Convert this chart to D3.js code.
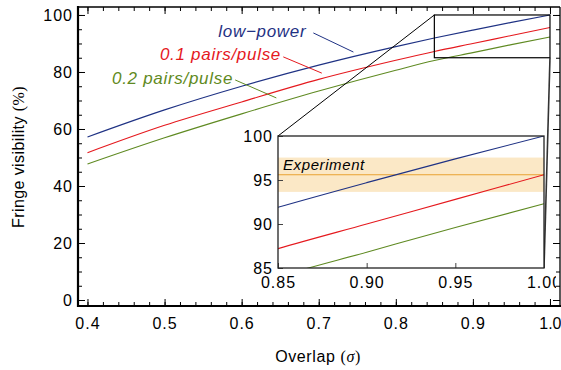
<!DOCTYPE html>
<html>
<head>
<meta charset="utf-8">
<script src="https://cdn.jsdelivr.net/npm/d3@7"></script>
<style>
  body { margin: 0; background: #fff; }
  svg { font-family: "Liberation Sans", Arial, sans-serif; }
</style>
</head>
<body>
<svg id="chart" width="561" height="370"></svg>
<script>
const overlap = [0.4, 0.5, 0.6, 0.7, 0.8, 0.85, 0.9, 0.95, 1.0];
const lowPower = [57.2, 66.7, 75.0, 82.4, 88.9, 91.9, 94.7, 97.4, 100.0];
const pairs01 = [51.7, 61.3, 69.5, 77.4, 84.1, 87.2, 90.0, 92.8, 95.6];
const pairs02 = [47.7, 56.9, 65.3, 73.3, 80.6, 84.0, 86.8, 89.6, 92.3];
const seriesNames = ['low\u2212power', '0.1 pairs/pulse', '0.2 pairs/pulse'];
const seriesColors = ['#1f3284', '#e5191e', '#5f8a22'];

// experiment: mean and half-width of band
const experiment = [95.6, 1.95];

const xTicksMain = [0.4, 0.5, 0.6, 0.7, 0.8, 0.9, 1.0];
const yTicksMain = [0, 20, 40, 60, 80, 100];
const xTicksInset = [0.85, 0.90, 0.95, 1.00];
const yTicksInset = [85, 90, 95, 100];

// label anchors (data coords of main plot): text start, pointer start, pointer end
const labelPos = [
  { tx: 0.5697, ty: 92.3, p: [[0.693, 93.7], [0.745, 87.0]] },
  { tx: 0.494, ty: 84.2, p: [[0.654, 85.3], [0.704, 79.6]] },
  { tx: 0.4318, ty: 75.8, p: [[0.5916, 77.2], [0.645, 70.9]] }
];

const svg = d3.select('#chart');

const x = d3.scaleLinear().domain([0.3877, 1.013]).range([78, 560]);
const y = d3.scaleLinear().domain([-2.1, 102.8]).range([306, 7]);

const xi = d3.scaleLinear().domain([0.85, 1.0]).range([278, 544]);
const yi = d3.scaleLinear().domain([85, 100]).range([268, 136]);

const series = [lowPower, pairs01, pairs02];

// main curves
const line = d3.line()
  .x((d, i) => x(overlap[i]))
  .y(d => y(d))
  .curve(d3.curveMonotoneX);

svg.append('g').selectAll('path')
  .data(series)
  .enter().append('path')
  .attr('d', line)
  .attr('fill', 'none')
  .attr('stroke', (d, i) => seriesColors[i])
  .attr('stroke-width', 1.1);

// labels + pointer lines
labelPos.forEach((l, i) => {
  svg.append('text')
    .attr('x', x(l.tx))
    .attr('y', y(l.ty))
    .attr('fill', seriesColors[i])
    .attr('font-size', 17)
    .attr('letter-spacing', 0.7)
    .attr('font-style', 'italic')
    .text(seriesNames[i]);
  svg.append('line')
    .attr('x1', x(l.p[0][0])).attr('y1', y(l.p[0][1]))
    .attr('x2', x(l.p[1][0])).attr('y2', y(l.p[1][1]))
    .attr('stroke', seriesColors[i])
    .attr('stroke-width', 1);
});

// main ticks (inward) on all four sides
const minorX = d3.range(0.4, 1.0001, 0.02);
const minorY = d3.range(0, 100.001, 5);

svg.append('g').attr('transform', `translate(0,${y.range()[0]})`)
  .call(d3.axisBottom(x).tickValues(minorX).tickSize(-4).tickFormat(''))
  .call(g => g.select('.domain').remove());
const xAxisMain = svg.append('g').attr('transform', `translate(0,${y.range()[0]})`)
  .call(d3.axisBottom(x).tickValues(xTicksMain).tickSize(-7).tickPadding(12).tickFormat(d3.format('.1f')))
  .call(g => g.select('.domain').remove());
svg.append('g').attr('transform', `translate(0,${y.range()[1]})`)
  .call(d3.axisTop(x).tickValues(minorX).tickSize(-4).tickFormat(''))
  .call(g => g.select('.domain').remove());
svg.append('g').attr('transform', `translate(0,${y.range()[1]})`)
  .call(d3.axisTop(x).tickValues(xTicksMain).tickSize(-7).tickFormat(''))
  .call(g => g.select('.domain').remove());

svg.append('g').attr('transform', `translate(${x.range()[0]},0)`)
  .call(d3.axisLeft(y).tickValues(minorY).tickSize(-4).tickFormat(''))
  .call(g => g.select('.domain').remove());
svg.append('g').attr('transform', `translate(${x.range()[0]},0)`)
  .call(d3.axisLeft(y).tickValues(yTicksMain).tickSize(-7).tickPadding(5).tickFormat(d3.format('d')))
  .call(g => g.select('.domain').remove());
svg.append('g').attr('transform', `translate(${x.range()[1]},0)`)
  .call(d3.axisRight(y).tickValues(minorY).tickSize(-4).tickFormat(''))
  .call(g => g.select('.domain').remove());
svg.append('g').attr('transform', `translate(${x.range()[1]},0)`)
  .call(d3.axisRight(y).tickValues(yTicksMain).tickSize(-7).tickFormat(''))
  .call(g => g.select('.domain').remove());

svg.selectAll('.tick text').attr('font-size', 16).attr('fill', '#000')
  .attr('letter-spacing', 1)
  .attr('font-family', '"Liberation Sans", Arial, sans-serif');
svg.selectAll('.tick line').attr('stroke', '#000').attr('stroke-width', 1);
// last label sits at the window edge: keep it inside
xAxisMain.selectAll('.tick text').filter(d => d === 1.0)
  .attr('letter-spacing', 0).attr('text-anchor', 'end').attr('x', 11);

// frame
svg.append('line').attr('x1', x.range()[0]).attr('x2', x.range()[1])
  .attr('y1', y.range()[1]).attr('y2', y.range()[1]).attr('stroke', '#000').attr('stroke-width', 1.3);
svg.append('line').attr('x1', x.range()[1]).attr('x2', x.range()[1])
  .attr('y1', y.range()[1]).attr('y2', y.range()[0]).attr('stroke', '#000').attr('stroke-width', 1.3);
svg.append('line').attr('x1', x.range()[0]).attr('x2', x.range()[1] + 1)
  .attr('y1', y.range()[0]).attr('y2', y.range()[0]).attr('stroke', '#000').attr('stroke-width', 2.2);
svg.append('line').attr('x1', x.range()[0]).attr('x2', x.range()[0])
  .attr('y1', y.range()[1] - 1).attr('y2', y.range()[0] + 1).attr('stroke', '#000').attr('stroke-width', 2.2);

// zoom rectangle in main plot
svg.append('rect')
  .attr('x', x(0.85)).attr('y', y(100))
  .attr('width', x(1.0) - x(0.85)).attr('height', y(85) - y(100))
  .attr('fill', 'none').attr('stroke', '#000').attr('stroke-width', 1.2);

// connectors
svg.append('line')
  .attr('x1', x(0.85)).attr('y1', y(100)).attr('x2', xi(0.85)).attr('y2', yi(100))
  .attr('stroke', '#000').attr('stroke-width', 1);
svg.append('line')
  .attr('x1', x(1.0)).attr('y1', y(85)).attr('x2', xi(1.0)).attr('y2', yi(85))
  .attr('stroke', '#333').attr('stroke-width', 1.6);

// inset
const inset = svg.append('g');
inset.append('clipPath').attr('id', 'inclip')
  .append('rect').attr('x', xi.range()[0]).attr('y', yi.range()[1])
  .attr('width', xi.range()[1] - xi.range()[0]).attr('height', yi.range()[0] - yi.range()[1]);
inset.append('clipPath').attr('id', 'labclip')
  .append('rect').attr('x', 200).attr('y', 100).attr('width', 356).attr('height', 200);

inset.append('rect')
  .attr('x', xi.range()[0]).attr('y', yi.range()[1])
  .attr('width', xi.range()[1] - xi.range()[0]).attr('height', yi.range()[0] - yi.range()[1])
  .attr('fill', '#fff');

const plotIn = inset.append('g').attr('clip-path', 'url(#inclip)');
plotIn.append('rect')
  .attr('x', xi.range()[0]).attr('width', xi.range()[1] - xi.range()[0])
  .attr('y', yi(experiment[0] + experiment[1]))
  .attr('height', yi(experiment[0] - experiment[1]) - yi(experiment[0] + experiment[1]))
  .attr('fill', '#fbe8c6');
plotIn.append('line')
  .attr('x1', xi.range()[0]).attr('x2', xi.range()[1])
  .attr('y1', yi(experiment[0])).attr('y2', yi(experiment[0]))
  .attr('stroke', '#e9a231').attr('stroke-width', 1.1);

const lineIn = d3.line()
  .x((d, i) => xi(overlap[i]))
  .y(d => yi(d))
  .curve(d3.curveMonotoneX);
plotIn.selectAll('path.s')
  .data(series)
  .enter().append('path')
  .attr('class', 's')
  .attr('d', lineIn)
  .attr('fill', 'none')
  .attr('stroke', (d, i) => seriesColors[i])
  .attr('stroke-width', 1.1);

inset.append('text')
  .attr('x', xi.range()[0] + 5).attr('y', yi(experiment[0]) - 5)
  .attr('font-size', 15).attr('letter-spacing', 0.6)
  .attr('font-style', 'italic').attr('fill', '#000')
  .text('Experiment');

const insetAxes = inset.append('g').attr('clip-path', 'url(#labclip)');
insetAxes.append('g').attr('transform', `translate(0,${yi.range()[0]})`)
  .call(d3.axisBottom(xi).tickValues(xTicksInset).tickSize(-5).tickPadding(9).tickFormat(d3.format('.2f')))
  .call(g => g.select('.domain').remove());
insetAxes.append('g').attr('transform', `translate(${xi.range()[0]},0)`)
  .call(d3.axisLeft(yi).tickValues(yTicksInset).tickSize(-5).tickPadding(5).tickFormat(d3.format('d')))
  .call(g => g.select('.domain').remove());
insetAxes.selectAll('.tick text').attr('font-size', 16).attr('letter-spacing', 1).attr('fill', '#000');
insetAxes.selectAll('.tick line').attr('stroke', '#444');

// inset frame
inset.append('rect')
  .attr('x', xi.range()[0]).attr('y', yi.range()[1])
  .attr('width', xi.range()[1] - xi.range()[0]).attr('height', yi.range()[0] - yi.range()[1])
  .attr('fill', 'none').attr('stroke', '#222').attr('stroke-width', 1.3);

// axis titles
svg.append('text')
  .attr('transform', 'translate(24,157) rotate(-90)')
  .attr('text-anchor', 'middle')
  .attr('font-size', 16)
  .attr('letter-spacing', 0.4)
  .call(t => {
    t.append('tspan').text('Fringe visibility ');
    t.append('tspan').attr('font-family', '"Liberation Serif", serif').text('(%)');
  });

svg.append('text')
  .attr('x', 318).attr('y', 362)
  .attr('text-anchor', 'middle')
  .attr('font-size', 16)
  .attr('letter-spacing', 0.6)
  .call(t => {
    t.append('tspan').text('Overlap ');
    t.append('tspan').attr('font-family', '"Liberation Serif", serif').text('(');
    t.append('tspan').attr('font-family', '"Liberation Serif", serif').attr('font-style', 'italic').text('\u03c3');
    t.append('tspan').attr('font-family', '"Liberation Serif", serif').text(')');
  });
</script>
</body>
</html>
